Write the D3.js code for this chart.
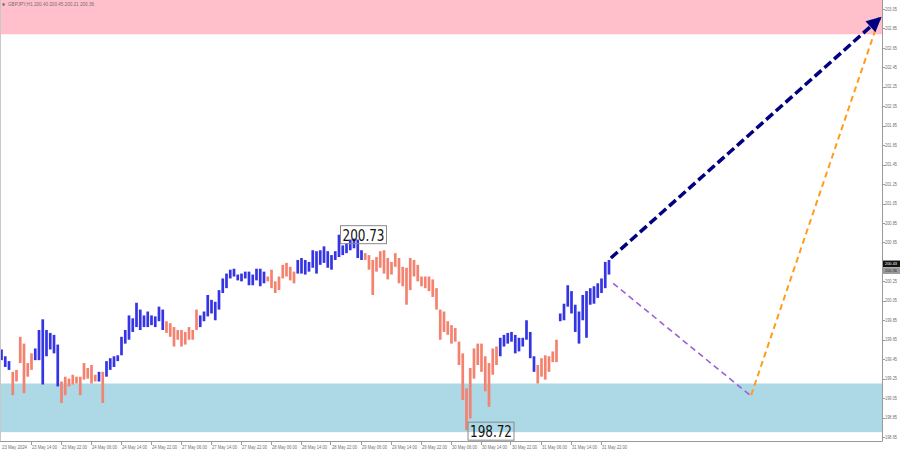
<!DOCTYPE html>
<html><head><meta charset="utf-8">
<script src="https://cdn.jsdelivr.net/npm/d3@7"></script>
<style>html,body{margin:0;padding:0;background:#fff;}svg{display:block;}</style>
</head><body>
<svg id="chart" width="900" height="454"></svg>
<script>
// ---------- data ----------
const symbolHeader = "GBPJPY,H1  200.40 200.45 200.21 200.36";
const barHigh = [
199.55,199.48,199.43,199.32,199.34,199.68,199.61,199.41,199.51,199.56,
199.75,199.86,199.75,199.72,199.70,199.60,199.22,199.27,199.25,199.29,
199.27,199.27,199.41,199.36,199.39,199.29,199.32,199.32,199.43,199.46,
199.48,199.49,199.68,199.75,199.90,199.87,200.03,199.96,199.90,199.94,
199.90,199.89,199.99,199.96,199.84,199.82,199.78,199.75,199.75,199.73,
199.78,199.75,199.96,199.90,199.94,200.11,200.06,200.04,200.16,200.28,
200.33,200.37,200.38,200.32,200.33,200.35,200.35,200.32,200.38,200.38,
200.35,200.30,200.37,200.25,200.30,200.42,200.44,200.40,200.35,200.47,
200.49,200.47,200.45,200.57,200.56,200.57,200.61,200.56,200.52,200.56,
200.73,200.62,200.64,200.68,200.69,200.68,200.57,200.54,200.52,200.47,
200.50,200.56,200.57,200.49,200.45,200.54,200.49,200.40,200.39,200.49,
200.47,200.42,200.30,200.30,200.30,200.27,200.18,199.96,199.94,199.84,
199.80,199.77,199.63,199.51,199.15,199.36,199.56,199.61,199.61,199.48,
199.41,199.56,199.58,199.67,199.70,199.72,199.73,199.70,199.67,199.67,
199.85,199.73,199.48,199.39,199.46,199.49,199.48,199.53,199.65,199.92,
200.02,200.21,200.15,200.01,199.94,200.11,200.15,200.18,200.20,200.23,
200.28,200.45,200.47];
const barLow = [
199.44,199.37,199.34,199.08,199.22,199.41,199.10,199.27,199.34,199.44,
199.44,199.19,199.48,199.55,199.51,199.17,199.00,199.08,199.17,199.19,
199.20,199.08,199.24,199.25,199.20,199.22,199.22,199.00,199.27,199.34,
199.37,199.43,199.49,199.61,199.65,199.73,199.78,199.75,199.78,199.78,
199.80,199.78,199.84,199.75,199.72,199.68,199.58,199.65,199.58,199.60,
199.65,199.65,199.75,199.78,199.84,199.89,199.92,199.85,199.96,200.13,
200.18,200.28,200.30,200.26,200.25,200.28,200.21,200.21,200.26,200.20,
200.23,200.25,200.18,200.13,200.16,200.28,200.30,200.26,200.23,200.33,
200.33,200.32,200.35,200.39,200.33,200.42,200.44,200.39,200.37,200.47,
200.50,200.52,200.54,200.57,200.59,200.49,200.47,200.47,200.37,200.11,
200.35,200.39,200.33,200.27,200.32,200.40,200.23,200.20,200.01,200.16,
200.30,200.25,200.20,200.18,200.15,200.09,199.96,199.65,199.73,199.70,
199.61,199.63,199.39,199.03,198.72,198.84,199.25,199.39,199.32,199.12,
198.96,199.29,199.39,199.48,199.58,199.61,199.63,199.51,199.53,199.58,
199.65,199.46,199.32,199.20,199.27,199.24,199.32,199.42,199.42,199.84,
199.85,199.99,199.92,199.73,199.61,199.85,199.67,200.01,200.02,200.08,
200.13,200.18,200.32];
const waveStart = [0,3,9,16,26,27,28,44,53,71,79,97,133,143,149];
const waveDir   = ["up","down","up","down","up","down","up","down","up","down","up","down","up","down","up"];

const timeLabels = ["23 May 2024","23 May 14:00","23 May 22:00","24 May 06:00","24 May 14:00","24 May 22:00",
"27 May 06:00","27 May 14:00","27 May 22:00","28 May 06:00","28 May 14:00","28 May 22:00",
"29 May 06:00","29 May 14:00","29 May 22:00","30 May 06:00","30 May 14:00","30 May 22:00",
"31 May 06:00","31 May 14:00","31 May 22:00"];
const timeLabelStep = 8; // bars between labels
const priceTicks = d3.range(23).map(i => +(198.65 + i * 0.2).toFixed(2));

const resistanceZone = [202.79, 203.20];
const supportZone = [198.70, 199.20];

const extremeLabels = [{bar: 90, price: 200.73, text: "200.73", pos: "top"},
                       {bar: 124, price: 198.72, text: "198.72", pos: "bottom"}];
const lastPrice = 200.43, askPrice = 200.36;

const forecastMain   = [{bar: 162.5, price: 200.49}, {bar: 234.4, price: 202.96}];
const forecastDown   = [{bar: 163.1, price: 200.23}, {bar: 199.6, price: 199.08}];
const forecastUp     = [{bar: 199.9, price: 199.08}, {bar: 233.6, price: 202.90}];

// ---------- layout ----------
const svg = d3.select("#chart");
const plotRight = 882, plotBottom = 441;
const x = d3.scaleLinear().domain([0, 235]).range([1.5, 1.5 + 3.75 * 235]);
const y = d3.scaleLinear().domain([203.05, 198.65]).range([9, 437]);

svg.append("rect").attr("width", 900).attr("height", 454).attr("fill", "#fff");
const defs = svg.append("defs");
defs.append("clipPath").attr("id", "plotclip").append("rect")
  .attr("x", 0).attr("y", 0).attr("width", plotRight).attr("height", plotBottom);
defs.append("marker").attr("id", "navyhead").attr("viewBox", "0 0 10 10")
  .attr("refX", 9).attr("refY", 5).attr("markerUnits", "userSpaceOnUse")
  .attr("markerWidth", 17).attr("markerHeight", 15).attr("orient", "auto")
  .append("path").attr("d", "M0,0 L10,5 L0,10 Z").attr("fill", "#000080");

const plot = svg.append("g").attr("clip-path", "url(#plotclip)");

// zones
plot.append("rect").attr("x", 0).attr("width", plotRight)
  .attr("y", y(resistanceZone[1])).attr("height", y(resistanceZone[0]) - y(resistanceZone[1]))
  .attr("fill", "#ffc0cb");
plot.append("rect").attr("x", 0).attr("width", plotRight)
  .attr("y", y(supportZone[1])).attr("height", y(supportZone[0]) - y(supportZone[1]))
  .attr("fill", "#add8e6");

// bars
const bars = barHigh.map((h, i) => {
  let seg = 0;
  for (let s = 0; s < waveStart.length; s++) if (i >= waveStart[s]) seg = s;
  return {i, h, l: barLow[i], dir: waveDir[seg]};
});
plot.append("g").selectAll("line").data(bars).join("line")
  .attr("x1", d => x(d.i)).attr("x2", d => x(d.i))
  .attr("y1", d => y(d.h)).attr("y2", d => y(d.l))
  .attr("stroke", d => d.dir === "up" ? "#3434e4" : "#f3826f")
  .attr("stroke-width", 2.7);

// forecast lines
const line = d3.line().x(d => x(d.bar)).y(d => y(d.price));
plot.append("path").attr("d", line(forecastDown)).attr("fill", "none")
  .attr("stroke", "#9d5fd6").attr("stroke-width", 1.6).attr("stroke-dasharray", "6,4");
plot.append("path").attr("d", line(forecastUp)).attr("fill", "none")
  .attr("stroke", "#ff9d1a").attr("stroke-width", 2).attr("stroke-dasharray", "6,4");
svg.append("path").attr("d", line(forecastMain)).attr("fill", "none")
  .attr("stroke", "#000080").attr("stroke-width", 3.5).attr("stroke-dasharray", "9,4")
  .attr("marker-end", "url(#navyhead)");

// extreme labels
extremeLabels.forEach(e => {
  const bx = x(e.bar) + 1.5, w = 46, hgt = 18;
  const by = e.pos === "top" ? y(e.price) - 9 : y(e.price) - 8;
  const g = svg.append("g");
  g.append("rect").attr("x", bx).attr("y", by).attr("width", w).attr("height", hgt)
    .attr("fill", "none").attr("stroke", "#8a8a8a").attr("stroke-width", 1);
  g.append("text").attr("x", bx + 2).attr("y", by + hgt - 3)
    .attr("font-family", "DejaVu Sans, Verdana, sans-serif").attr("font-size", 16)
    .attr("textLength", 42).attr("lengthAdjust", "spacingAndGlyphs")
    .attr("fill", "#111").text(e.text);
});

// axes frame
svg.append("line").attr("x1", plotRight + 0.5).attr("x2", plotRight + 0.5).attr("y1", 0).attr("y2", plotBottom)
  .attr("stroke", "#9a9a9a").attr("stroke-width", 1);
svg.append("line").attr("x1", 0).attr("x2", plotRight + 0.5).attr("y1", plotBottom + 0.5).attr("y2", plotBottom + 0.5)
  .attr("stroke", "#9a9a9a").attr("stroke-width", 1);
svg.append("line").attr("x1", 0.5).attr("x2", 0.5).attr("y1", 0).attr("y2", plotBottom)
  .attr("stroke", "#c8c8c8").attr("stroke-width", 1);

// right price axis (labels hidden where the price tags sit, as in the terminal)
const tagPrices = [lastPrice, askPrice];
const ra = svg.append("g");
priceTicks.forEach(p => {
  ra.append("line").attr("x1", plotRight).attr("x2", plotRight + 3).attr("y1", Math.round(y(p)) + 0.5).attr("y2", Math.round(y(p)) + 0.5)
    .attr("stroke", "#9a9a9a");
  const hidden = tagPrices.some(tp => Math.abs(y(tp) - y(p)) < 7);
  if (!hidden) ra.append("text").attr("x", 885).attr("y", y(p) + 1.6)
    .attr("font-family", "Liberation Sans, Arial, sans-serif").attr("font-size", 4.6)
    .attr("textLength", 12).attr("lengthAdjust", "spacingAndGlyphs")
    .attr("fill", "#707070").text(p.toFixed(2));
});
// price tags
[[lastPrice, "#111", "#fff"], [askPrice, "#9a9a9a", "#333"]].forEach(([p, bg, fg]) => {
  ra.append("rect").attr("x", 883).attr("y", y(p) - 3.3).attr("width", 17).attr("height", 6.6).attr("fill", bg);
  ra.append("text").attr("x", 885).attr("y", y(p) + 1.5)
    .attr("font-family", "Liberation Sans, Arial, sans-serif").attr("font-size", 4.3)
    .attr("textLength", 12).attr("lengthAdjust", "spacingAndGlyphs")
    .attr("fill", fg).text(p.toFixed(2));
});

// bottom time axis
const ba = svg.append("g");
timeLabels.forEach((t, j) => {
  const tx = x(j * timeLabelStep) - 1;
  if (j > 0) ba.append("line").attr("x1", Math.round(tx) + 0.5).attr("x2", Math.round(tx) + 0.5)
    .attr("y1", plotBottom).attr("y2", plotBottom + 4).attr("stroke", "#9a9a9a");
  ba.append("text").attr("x", tx + 1.5).attr("y", 449)
    .attr("font-family", "Liberation Sans, Arial, sans-serif").attr("font-size", 4.8)
    .attr("textLength", 25).attr("lengthAdjust", "spacingAndGlyphs")
    .attr("fill", "#707070").text(t);
});

// header
svg.append("text").attr("x", 2).attr("y", 6).attr("font-family", "DejaVu Sans, sans-serif")
  .attr("font-size", 4).attr("fill", "#666").text("\u25BC");
svg.append("text").attr("x", 8).attr("y", 6.3)
  .attr("font-family", "Liberation Sans, Arial, sans-serif").attr("font-size", 4.6)
  .attr("textLength", 86).attr("lengthAdjust", "spacingAndGlyphs")
  .attr("fill", "#707070").text(symbolHeader);
</script>
</body></html>
